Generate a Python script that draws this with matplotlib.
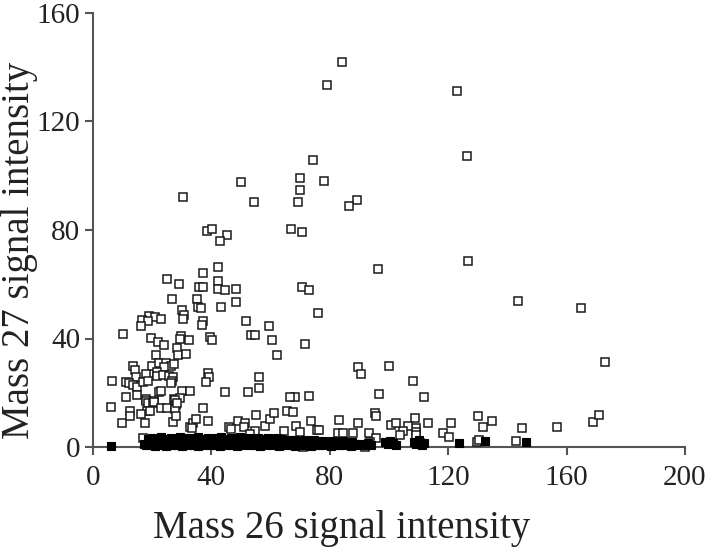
import matplotlib
matplotlib.use("Agg")
import matplotlib.pyplot as plt

# open squares (Mass 26, Mass 27)
open_x = [84.1, 78.9, 123.0, 126.2, 74.2, 70.0, 78.0, 49.9, 70.0, 30.4, 89.3, 54.5, 69.3, 86.6,
          66.8, 70.5, 38.4, 40.2, 45.3, 43.0, 126.8, 96.3, 42.3, 37.2, 25.0, 29.2, 35.8, 37.2,
          42.2, 42.2, 44.5, 48.2, 70.5, 73.1, 143.6, 164.8, 26.6, 35.1, 35.6, 36.6, 43.1, 48.2,
          30.0, 76.0, 30.9, 30.4, 18.9, 20.8, 23.0, 16.4, 18.6, 16.1, 37.2, 36.8, 51.6, 59.5,
          10.1, 53.4, 54.7, 60.5, 19.5, 22.0, 24.1, 29.8, 29.5, 32.5, 39.4, 40.1, 71.7, 28.3,
          28.8, 31.4, 21.2, 62.1, 173.1, 13.5, 14.1, 20.0, 22.2, 24.7, 26.5, 27.3, 24.1, 89.5,
          90.4, 100.1, 14.4, 17.8, 21.5, 21.7, 23.6, 25.7, 27.0, 26.6, 26.2, 38.9, 39.2, 38.1,
          6.4, 11.1, 12.2, 13.5, 14.9, 16.9, 18.5, 56.2, 56.2, 108.1, 44.5, 52.4, 22.2, 23.0,
          30.0, 32.7, 96.7, 111.9, 73.1, 68.2, 14.8, 11.3, 17.8, 20.6, 27.5, 29.5, 66.4,
          6.0, 9.9, 12.6, 12.6, 17.9, 18.7, 20.2, 20.7, 18.3, 19.3, 16.2, 17.5, 23.1, 24.9,
          27.6, 28.1, 27.7, 28.5, 26.9, 28.0, 37.3, 38.8, 32.8, 33.9, 34.8, 33.3, 49.0, 51.2,
          51.0, 45.8, 46.5, 55.2, 58.0, 59.8, 61.1, 65.5, 67.7, 54.6, 52.9, 130.1, 73.5, 83.2,
          89.6, 95.3, 95.5, 113.3, 120.8, 108.9, 109.0, 109.0, 109.0, 106.5, 104.6, 103.7,
          100.7, 102.4, 64.5, 68.6, 69.9, 75.6, 76.5, 82.9, 84.6, 87.9, 93.4, 95.6, 93.6,
          118.3, 120.4, 129.6, 131.9, 134.7, 130.5, 144.8, 142.9, 156.6, 169.0, 171.0,
          17.0, 90.8, 91.9, 110.5, 71.0]
open_y = [141.9, 133.5, 131.2, 107.3, 105.8, 99.0, 98.1, 97.6, 94.7, 92.0, 91.1, 90.2, 90.2, 88.8,
          80.5, 79.1, 79.6, 80.5, 78.3, 75.9, 68.5, 65.6, 66.2, 64.3, 62.1, 60.1, 58.9, 58.9,
          61.2, 58.1, 57.8, 58.4, 58.9, 57.8, 53.7, 51.4, 54.7, 54.7, 51.7, 51.4, 51.5, 53.3,
          50.5, 49.5, 48.5, 47.1, 48.4, 47.8, 47.2, 46.8, 46.3, 44.6, 46.6, 44.9, 46.3, 44.5,
          41.7, 41.3, 41.3, 39.4, 40.1, 38.6, 37.6, 40.9, 39.7, 39.4, 40.4, 39.3, 38.0, 36.6,
          33.9, 34.4, 34.0, 33.9, 31.2, 30.0, 28.4, 29.7, 30.8, 31.1, 29.9, 30.7, 29.6, 29.4,
          27.0, 29.9, 25.8, 27.0, 27.6, 26.3, 26.7, 26.1, 25.8, 24.4, 23.7, 27.4, 25.7, 23.9,
          24.3, 24.0, 23.5, 23.0, 22.0, 24.1, 24.4, 25.7, 21.8, 24.2, 20.2, 20.2, 20.2, 20.6,
          20.5, 20.7, 19.7, 18.4, 18.8, 18.4, 19.2, 18.4, 17.8, 17.1, 17.8, 18.2, 18.3,
          14.7, 8.7, 13.2, 11.4, 17.1, 16.3, 16.1, 16.7, 13.4, 13.4, 12.1, 8.7, 14.3, 14.3,
          17.3, 15.5, 14.0, 16.1, 9.1, 11.4, 14.3, 9.6, 7.5, 8.7, 10.3, 6.9, 9.6, 8.7,
          7.5, 7.5, 6.6, 11.8, 7.9, 10.2, 12.4, 13.4, 12.8, 5.9, 4.7, 11.4, 9.7, 10.0,
          8.7, 12.4, 11.5, 8.7, 8.7, 10.6, 6.9, 5.6, 4.4, 7.9, 6.0, 4.4,
          8.1, 8.7, 6.0, 7.7, 5.6, 6.3, 6.3, 5.3, 5.3, 5.0, 5.0, 3.2, 2.0,
          5.0, 3.6, 2.0, 7.3, 9.6, 2.6, 6.9, 2.2, 7.3, 9.1, 11.8,
          3.3, 0.7, 0.1, 1.4, 0.1]

# filled squares (dense band near zero)
filled_x = [6.0, 123.8, 132.4, 146.2,
            17.2, 18.0, 18.9, 19.5, 20.3, 21.0, 21.8, 22.4, 23.1, 23.9, 24.5, 25.2, 26.0, 26.7,
            27.3, 28.1, 28.8, 29.6, 30.2, 31.0, 31.7, 32.5, 33.2, 33.9, 34.6, 35.4, 36.1, 36.9,
            37.6, 38.3, 39.1, 39.8, 40.6, 41.3, 42.0, 42.8, 43.5, 44.3, 45.0, 45.8, 46.5, 47.3,
            48.0, 48.8, 49.5, 50.3, 51.0, 51.8, 52.5, 53.3, 54.0, 54.8, 55.5, 56.3, 57.0, 57.8,
            58.5, 59.3, 60.0, 60.8, 61.5, 62.3, 63.0, 63.8, 64.5, 65.3, 66.0, 66.8, 67.5, 68.3,
            69.0, 69.8, 70.5, 71.3, 72.0, 72.8, 73.5, 74.3, 75.0, 75.8, 76.5, 77.3, 78.0, 78.8,
            79.5, 80.3, 81.0, 81.8, 82.5, 83.3, 84.0, 84.8, 85.5, 86.3, 87.0, 87.8, 88.5, 89.3,
            90.0, 92.3, 93.0, 93.8,
            98.5, 99.5, 100.5, 101.5, 102.5, 108.3, 109.2, 110.0, 111.0, 111.8,
            18.5, 20.0, 21.5, 23.0, 24.6, 26.2, 27.8, 29.3, 30.9, 32.4, 34.0, 35.6, 37.1, 38.7,
            40.2, 41.8, 43.4, 44.9, 46.5, 48.0, 49.6, 51.2, 52.7, 54.3, 55.8, 57.4, 59.0, 60.5,
            62.1, 63.6, 65.2, 66.8, 68.4, 70.0, 71.6, 73.2, 74.8, 76.4, 78.0, 79.6, 81.2, 82.8,
            84.4, 86.0, 87.6]
filled_y = [0.3, 1.6, 2.2, 1.7,
            1.2, 0.6, 1.8, 0.9, 1.4, 0.5, 2.0, 1.1, 0.7, 1.6, 0.4, 1.3, 2.1, 0.8,
            1.5, 0.6, 1.9, 1.0, 0.5, 1.7, 1.2, 0.6, 2.2, 0.9, 1.4, 0.5, 1.8, 1.1,
            0.7, 2.0, 1.3, 0.6, 1.6, 0.9, 2.3, 0.5, 1.2, 1.9, 0.8, 1.5, 0.6, 2.1,
            1.0, 0.5, 1.7, 1.2, 0.7, 2.0, 1.1, 0.6, 1.6, 0.9, 1.3, 0.5, 1.8, 1.0,
            0.6, 1.5, 1.2, 0.7, 1.9, 0.9, 0.5, 1.4, 1.1, 0.6, 1.7, 0.8, 1.2, 0.5,
            1.0, 1.5, 0.6, 1.2, 0.8, 1.6, 0.5, 1.1, 0.9, 1.4, 0.6, 1.2, 0.7, 1.0,
            1.5, 0.5, 1.1, 0.8, 1.3, 0.6, 1.0, 1.4, 0.7, 1.1, 0.5, 0.9, 1.2, 0.6,
            1.0, 0.8, 1.4, 0.6,
            1.8, 1.0, 2.2, 1.3, 0.8, 1.9, 1.2, 2.4, 0.9, 1.6,
            3.0, 3.4, 2.8, 3.6, 3.1, 3.5, 2.9, 3.7, 3.2, 3.4, 2.8, 3.6, 3.1, 3.5,
            2.9, 3.3, 3.8, 3.0, 3.4, 2.8, 3.6, 3.1, 3.3, 2.9, 3.5, 3.0, 3.2, 2.8,
            3.4, 3.0, 2.7, 2.4, 2.6, 2.3, 2.5, 2.2, 2.4, 2.1, 2.3, 2.0, 2.2, 1.9,
            2.1, 1.8, 2.0]

x_ticks = [0, 40, 80, 120, 160, 200]
y_ticks = [0, 40, 80, 120, 160]

plt.rcParams['font.family'] = ['Liberation Serif', 'DejaVu Serif']

fig = plt.figure(figsize=(7.07, 5.5), dpi=100)
ax = fig.add_axes([93 / 707, 1 - 447 / 550, (685 - 93) / 707, (447 - 13) / 550])

ax.plot(open_x, open_y, linestyle='none', marker='s', markersize=5.6,
        markerfacecolor='white', markeredgecolor='#1a1a1a', markeredgewidth=1.1,
        clip_on=False, zorder=3)
ax.plot(filled_x, filled_y, linestyle='none', marker='s', markersize=5.6,
        markerfacecolor='black', markeredgecolor='black', markeredgewidth=0.8,
        clip_on=False, zorder=4)

ax.set_xlim(0, 200)
ax.set_ylim(0, 160)
ax.set_xticks(x_ticks)
ax.set_yticks(y_ticks)

for side in ['top', 'right']:
    ax.spines[side].set_visible(False)
for side in ['left', 'bottom']:
    ax.spines[side].set_color('#555555')
    ax.spines[side].set_linewidth(1.5)

ax.tick_params(axis='both', direction='out', length=5.8, width=1.5, color='#555555',
               labelsize=21, labelcolor='#222222')
ax.tick_params(axis='x', pad=7)
ax.tick_params(axis='y', pad=3.5)

ax.set_xlabel("Mass 26 signal intensity", fontsize=28, color='#222222')
ax.set_ylabel("Mass 27 signal intensity", fontsize=28, color='#222222')
# labels sit a bit off-centre, as in the original chart
ax.xaxis.set_label_coords(0.42, -0.145)
ax.yaxis.set_label_coords(-0.093, 0.454)

fig.savefig("out.png", dpi=100)
